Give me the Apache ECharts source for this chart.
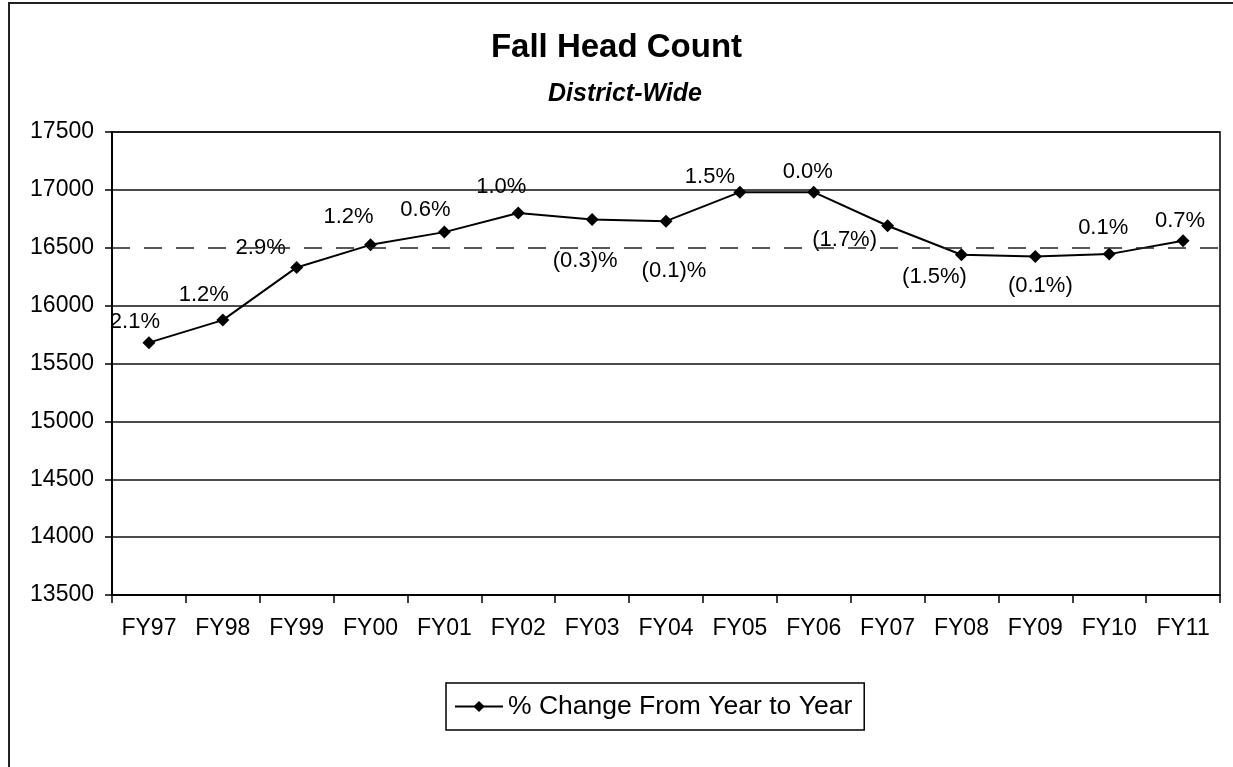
<!DOCTYPE html>
<html>
<head>
<meta charset="utf-8">
<script src="https://cdn.jsdelivr.net/npm/echarts@6/dist/echarts.min.js"></script>
<style>
  html, body {
    margin: 0;
    padding: 0;
    background: #fff;
  }
  #frame {
    position: absolute;
    left: 8px;
    top: 2px;
    width: 1225px;
    height: 765px;
    box-sizing: border-box;
    border-top: 2px solid #222;
    border-left: 2px solid #222;
  }
  #chart {
    position: absolute;
    left: 0;
    top: 0;
    width: 1233px;
    height: 767px;
  }
</style>
</head>
<body>
<div id="frame"></div>
<div id="chart"></div>
<script>
// 数据
var categories = ["FY97", "FY98", "FY99", "FY00", "FY01", "FY02", "FY03", "FY04",
  "FY05", "FY06", "FY07", "FY08", "FY09", "FY10", "FY11"];
var headCount = [15680, 15875, 16330, 16525, 16635, 16800, 16745, 16730,
  16980, 16980, 16690, 16440, 16425, 16445, 16560];
var changeLabels = ["2.1%", "1.2%", "2.9%", "1.2%", "0.6%", "1.0%", "(0.3)%", "(0.1)%",
  "1.5%", "0.0%", "(1.7%)", "(1.5%)", "(0.1%)", "0.1%", "0.7%"];
var yTicks = [13500, 14000, 14500, 15000, 15500, 16000, 16500, 17000, 17500];

// 标签相对数据点的偏移
var labelOffsets = [[-14, -21], [-19, -25], [-36, -19], [-22, -28], [-19, -22],
  [-17, -26], [-7, 42], [8, 50], [-30, -15], [-6, -20], [-43, 14], [-27, 22],
  [5, 30], [-6, -26], [-3, -20]];

var font = "'Liberation Sans', Arial, sans-serif";

var myChart = echarts.init(document.getElementById("chart"));

var seriesData = headCount.map(function (v, i) {
  return {
    value: v,
    label: {
      formatter: changeLabels[i],
      offset: labelOffsets[i],
    },
  };
});

// 16500 那条网格线是虚线, 其余实线
var gridColors = yTicks.map(function (t) {
  return t === 16500 ? "rgba(0,0,0,0)" : "#111";
});

myChart.setOption({
  animation: false,
  title: [
    {
      text: "Fall Head Count",
      left: "center",
      top: 26,
      textStyle: {
        fontFamily: font,
        fontWeight: "bold",
        fontSize: 33,
        color: "#000",
      },
    },
    {
      text: "District-Wide",
      left: 620,
      textAlign: "center",
      top: 77,
      textStyle: {
        fontFamily: font,
        fontWeight: "bold",
        fontStyle: "italic",
        fontSize: 25,
        color: "#000",
      },
    },
  ],
  grid: {
    left: 112,
    right: 13,
    top: 132,
    bottom: 172,
    show: true,
    borderColor: "#000",
    borderWidth: 1.5,
  },
  legend: {
    left: 446,
    top: 683,
    padding: [10, 12, 10, 8],
    borderColor: "#000",
    borderWidth: 1.5,
    itemWidth: 48,
    itemHeight: 14,
    itemGap: 5,
    textStyle: {
      fontFamily: font,
      fontSize: 26.5,
      color: "#000",
    },
    data: ["% Change From Year to Year"],
  },
  xAxis: {
    type: "category",
    data: categories,
    axisLine: {
      lineStyle: { color: "#000", width: 2 },
    },
    axisTick: {
      show: true,
      length: 8,
      lineStyle: { color: "#000", width: 1.5 },
    },
    axisLabel: {
      margin: 22,
      fontFamily: font,
      fontSize: 23,
      color: "#000",
    },
  },
  yAxis: {
    type: "value",
    min: 13500,
    max: 17500,
    interval: 500,
    axisLine: {
      show: true,
      lineStyle: { color: "#000", width: 2 },
    },
    axisTick: {
      show: true,
      length: 7,
      lineStyle: { color: "#000", width: 1.5 },
    },
    splitLine: {
      show: true,
      lineStyle: { color: gridColors, width: 1.5 },
    },
    axisLabel: {
      margin: 18,
      fontFamily: font,
      fontSize: 23,
      color: "#000",
      formatter: function (v) {
        return String(v);
      },
    },
  },
  series: [
    {
      name: "% Change From Year to Year",
      type: "line",
      data: seriesData,
      symbol: "diamond",
      symbolSize: 13,
      lineStyle: { color: "#000", width: 2 },
      itemStyle: { color: "#000" },
      label: {
        show: true,
        position: "inside",
        fontFamily: font,
        fontSize: 22,
        color: "#000",
      },
      markLine: {
        silent: true,
        symbol: "none",
        label: { show: false },
        lineStyle: { color: "#222", type: [18, 14], width: 1.5 },
        data: [{ yAxis: 16500 }],
      },
      z: 3,
    },
  ],
});
</script>
</body>
</html>
